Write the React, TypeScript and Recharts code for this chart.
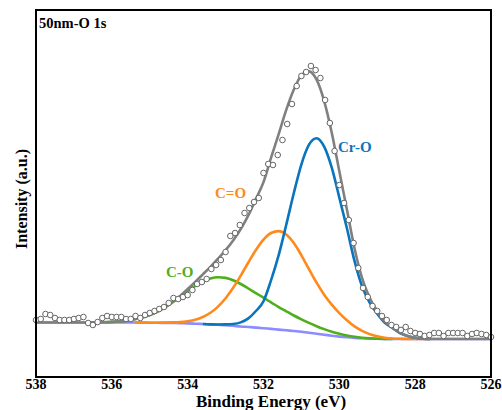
import {
  ComposedChart, Line, Scatter, XAxis, YAxis,
} from 'recharts'

const FONT = '"Liberation Serif", "Times New Roman", serif'

const xTicks = [538, 536, 534, 532, 530, 528, 526]

// fit curves (binding energy grid, eV)
const fitEnergy = [
  538, 537.5, 537, 536.7, 536.4, 536.2, 536.0, 535.8, 535.6, 535.4,
  535.2, 535.0, 534.8, 534.6, 534.4, 534.2, 534.0, 533.8, 533.6, 533.4,
  533.2, 533.0, 532.8, 532.6, 532.4, 532.2, 532.0, 531.8, 531.6, 531.4,
  531.2, 531.0, 530.8, 530.6, 530.4, 530.2, 530.0, 529.8, 529.6, 529.4,
  529.2, 529.0, 528.8, 528.6, 528.4, 528.2, 528.0, 527.8, 527.6, 527.0,
  526.5, 526.0,
]

const background = [
  54.5, 54.5, 54.5, 54.5, 54.5, 54.5, 54.5, 54.5, 54.5, 54.5,
  54.4, 54.3, 54.2, 54.1, 54.0, 53.8, 53.6, 53.3, 53.0, 52.6,
  52.2, 51.8, 51.2, 50.5, 50.0, 49.4, 48.8, 48.1, 47.4, 46.7,
  46.0, 45.2, 44.3, 43.3, 42.3, 41.3, 40.4, 39.7, 39.1, 38.7,
  38.4, 38.2, 38.1, 38.0, 38, 38, 38, 38, 38, 38,
  38, 38,
]

const crO = [
  null, null, null, null, null, null, null, null, null, null,
  null, null, null, null, null, null, null, null, 53.0, 52.6,
  52.5, 52.6, 53.0, 54.6, 58.6, 66.0, 75.8, 96.9, 121.9, 152.2,
  184.0, 212.7, 232.3, 238.8, 230.3, 209.3, 179.4, 148.7, 116.1, 90.7,
  74.4, 63.2, 54.1, 49.0, 44.0, 41.0, 39.2, 38.4, 38.0, null,
  null, null,
]

const cDoubleO = [
  null, null, null, null, null, null, null, null, null, 54.5,
  54.4, 54.3, 54.3, 54.4, 54.6, 54.9, 55.8, 57.3, 60.0, 64.2,
  70.4, 78.8, 89.3, 101.4, 114.5, 127.0, 137.4, 144.0, 145.9, 142.6,
  134.0, 121.7, 107.8, 94.3, 82.3, 72.3, 63.9, 56.7, 50.6, 46.2,
  42.9, 40.7, 39.3, 38.5, 38.2, 38.0, 38.0, 38.0, 38.0, null,
  null, null,
]

const cSingleO = [
  null, null, null, 54.5, 54.6, 54.8, 55.1, 55.6, 56.4, 57.7,
  59.4, 61.9, 65.2, 69.5, 74.5, 80.0, 85.8, 91.1, 95.6, 98.6,
  99.8, 99.1, 96.7, 93.0, 88.5, 83.9, 79.3, 74.6, 69.9, 65.7,
  61.5, 57.7, 54.1, 50.8, 47.9, 45.3, 43.2, 41.5, 40.2, 39.3,
  38.7, 38.3, 38.1, 38.0, null, null, null, null, null, null,
  null, null,
]

const envelope = [
  54.5, 54.5, 54.5, 54.5, 54.6, 54.8, 55.1, 55.6, 56.4, 57.7,
  59.4, 61.9, 65.3, 69.8, 75.1, 81.1, 88.0, 95.1, 102.6, 110.2,
  118.3, 126.9, 136.6, 148.0, 161.6, 178.1, 194.9, 219.3, 242.9, 267.1,
  287.5, 301.7, 305.6, 297.3, 275.9, 244.3, 205.7, 167.5, 128.7, 98.8,
  79.2, 65.8, 55.3, 49.5, 44.2, 41.0, 39.2, 38.4, 38.0, 38,
  38, 38,
]

// measured points
const pointEnergy = [
  538.000, 537.875, 537.750, 537.625, 537.500, 537.375, 537.250, 537.125,
  537.000, 536.875, 536.750, 536.625, 536.500, 536.375, 536.250, 536.125,
  536.000, 535.875, 535.750, 535.625, 535.500, 535.375, 535.250, 535.125,
  535.000, 534.875, 534.750, 534.625, 534.500, 534.375, 534.250, 534.125,
  534.000, 533.875, 533.750, 533.625, 533.500, 533.375, 533.250, 533.125,
  533.000, 532.875, 532.750, 532.625, 532.500, 532.375, 532.250, 532.125,
  532.000, 531.875, 531.750, 531.625, 531.500, 531.375, 531.250, 531.125,
  531.000, 530.875, 530.750, 530.625, 530.500, 530.375, 530.250, 530.125,
  530.000, 529.875, 529.750, 529.625, 529.500, 529.375, 529.250, 529.125,
  529.000, 528.875, 528.750, 528.625, 528.500, 528.375, 528.250, 528.125,
  528.000, 527.875, 527.750, 527.625, 527.500, 527.375, 527.250, 527.125,
  527.000, 526.875, 526.750, 526.625, 526.500, 526.375, 526.250, 526.125,
  526.000,
]

const pointIntensity = [
  57, 58, 63, 62, 59, 57, 57, 57, 58, 59, 60, 54, 52, 55, 59, 61,
  60, 60, 60, 58, 58, 61, 59, 62, 64, 66, 68, 70, 74, 79, 78, 80,
  82, 87, 93, 95, 98, 108, 112, 117, 125, 141, 144, 152, 164, 169,
  175, 179, 204, 213, 212, 222, 237, 253, 273, 291, 301, 305, 311, 307,
  299, 277, 254, 226, 192, 174, 157, 134, 109, 89, 80, 71, 66, 61,
  57, 52, 50, 47, 50, 46, 44, 43, 41, 42, 44, 44, 41, 44, 44, 44,
  44, 41, 43, 44, 43, 42, 40,
]

const fitData = fitEnergy.map((be, i) => ({
  be,
  bg: background[i],
  crO: crO[i],
  cdo: cDoubleO[i],
  co: cSingleO[i],
  total: envelope[i],
}))

const pointData = pointEnergy.map((be, i) => ({ be, y: pointIntensity[i] }))

const Ring = (p: any) => (
  <circle cx={p.cx} cy={p.cy} r={2.8} fill="#fff" stroke="#666" strokeWidth={1} />
)

export default function App() {
  return (
    <div style={{ position: 'absolute', left: 0, top: 0, width: 502, height: 410, background: '#fff' }}>
      <ComposedChart
        width={502}
        height={410}
        data={fitData}
        margin={{ top: 10, right: 11, bottom: 0, left: 36 }}
      >
        <XAxis
          dataKey="be"
          type="number"
          domain={[526, 538]}
          reversed
          ticks={xTicks}
          interval={0}
          axisLine={false}
          tickLine={false}
          tickSize={0}
          tickMargin={2}
          height={33}
          tick={{ fill: '#000', fontFamily: FONT, fontWeight: 700, fontSize: 14 }}
        />
        <YAxis type="number" domain={[0, 367]} hide />
        <Line dataKey="bg" type="monotone" stroke="#8a8cff" strokeWidth={2.6} dot={false} isAnimationActive={false} />
        <Line dataKey="co" type="monotone" stroke="#4fae1c" strokeWidth={2.6} dot={false} isAnimationActive={false} />
        <Line dataKey="cdo" type="monotone" stroke="#ff8a1c" strokeWidth={2.6} dot={false} isAnimationActive={false} />
        <Line dataKey="crO" type="monotone" stroke="#0a74bd" strokeWidth={2.6} dot={false} isAnimationActive={false} />
        <Line dataKey="total" type="monotone" stroke="#808080" strokeWidth={2.6} dot={false} isAnimationActive={false} />
        <Scatter data={pointData} dataKey="y" shape={Ring} isAnimationActive={false} />
        <text x={39} y={28} fontFamily={FONT} fontWeight={700} fontSize={14.5} fill="#000">50nm-O 1s</text>
        <text x={338} y={152} fontFamily={FONT} fontWeight={700} fontSize={15} fill="#0a74bd">Cr-O</text>
        <text x={215} y={198} fontFamily={FONT} fontWeight={700} fontSize={15} fill="#ff8a1c">C=O</text>
        <text x={166} y={277} fontFamily={FONT} fontWeight={700} fontSize={15} fill="#4fae1c">C-O</text>
        <text x={271} y={407} textAnchor="middle" fontFamily={FONT} fontWeight={700} fontSize={17} fill="#000">Binding Energy (eV)</text>
        <text x={0} y={0} transform="translate(27 199) rotate(-90)" textAnchor="middle" fontFamily={FONT} fontWeight={700} fontSize={16} fill="#000">Intensity (a.u.)</text>
      </ComposedChart>
      {/* plot frame */}
      <div
        style={{
          position: 'absolute', left: 34.75, top: 8.75, width: 457.5, height: 369.5,
          boxSizing: 'border-box', border: '2.5px solid #000', pointerEvents: 'none',
        }}
      />
    </div>
  )
}
